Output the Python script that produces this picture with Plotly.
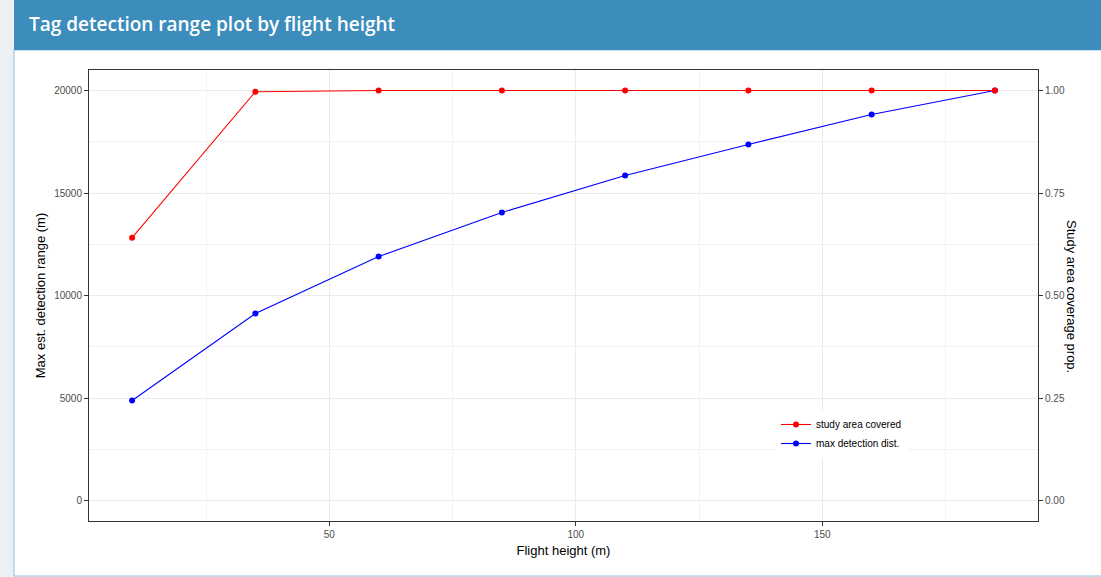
import plotly.graph_objects as go

flight_height = [10, 35, 60, 85, 110, 135, 160, 185]
max_detection_dist = [4880, 9120, 11900, 14050, 15850, 17370, 18830, 20000]
study_area_covered = [0.641, 0.997, 1.0, 1.0, 1.0, 1.0, 1.0, 1.0]

W, H = 1101, 577
L, R, T, B = 89, 1038, 70, 521
pw, ph = R - L, B - T

def px(x):
    return (x - L) / pw

def py(y):
    return (B - y) / ph

fig = go.Figure()
fig.add_trace(go.Scatter(
    x=flight_height, y=study_area_covered, yaxis="y2", mode="lines+markers",
    name="study area covered", line=dict(color="red", width=1.1),
    marker=dict(color="red", size=6)))
fig.add_trace(go.Scatter(
    x=flight_height, y=max_detection_dist, mode="lines+markers",
    name="max detection dist.", line=dict(color="blue", width=1.1),
    marker=dict(color="blue", size=6)))

shapes = [
    dict(type="rect", xref="paper", yref="paper", x0=px(14), x1=px(1102), y0=py(576), y1=py(50),
         fillcolor="white", line=dict(color="#8fbfdc", width=1), layer="below"),
    dict(type="rect", xref="paper", yref="paper", x0=px(14), x1=px(1102), y0=py(50), y1=py(-1),
         fillcolor="#3c8dbc", line=dict(width=0), layer="below"),
]

annotations = [
    dict(text="Tag detection range plot by flight height", xref="paper", yref="paper",
         x=px(27), y=py(24), xanchor="left", yanchor="middle", showarrow=False,
         font=dict(family="Open Sans", size=19, color="white", weight=600)),
    dict(text="Study area coverage prop.", xref="paper", yref="paper",
         x=px(1072), y=py(296), xanchor="center", yanchor="middle", showarrow=False,
         textangle=90, font=dict(family="Liberation Sans", size=13, color="black")),
]

fig.update_layout(
    width=W, height=H,
    margin=dict(l=L, r=W - R, t=T, b=H - B),
    paper_bgcolor="#ecf0f5", plot_bgcolor="white",
    font=dict(family="Liberation Sans"),
    shapes=shapes, annotations=annotations,
    showlegend=True,
    legend=dict(x=px(776), y=py(410), xanchor="left", yanchor="top",
                bgcolor="white", font=dict(size=10, color="black"),
                itemwidth=30, tracegroupgap=4),
    xaxis=dict(range=[1.25, 193.75], tickvals=[50, 100, 150], showgrid=True,
               gridcolor="#ebebeb", gridwidth=1,
               minor=dict(tickvals=[25, 75, 125, 175], showgrid=True, gridcolor="#f2f2f2", gridwidth=1, ticks=""),
               showline=True, linecolor="#333333", linewidth=1, mirror=True,
               ticks="outside", ticklen=4, tickcolor="#333333",
               tickfont=dict(size=10, color="#4d4d4d"), zeroline=False,
               title=dict(text="Flight height (m)", font=dict(size=13, color="black"), standoff=6)),
    yaxis=dict(range=[-1000, 21000], tickvals=[0, 5000, 10000, 15000, 20000],
               ticktext=["0", "5000", "10000", "15000", "20000"], showgrid=True,
               gridcolor="#ebebeb", gridwidth=1,
               minor=dict(tickvals=[2500, 7500, 12500, 17500], showgrid=True, gridcolor="#f2f2f2", gridwidth=1, ticks=""),
               showline=True, linecolor="#333333", linewidth=1, mirror=True,
               ticks="outside", ticklen=4, tickcolor="#333333",
               tickfont=dict(size=10, color="#4d4d4d"), zeroline=False,
               title=dict(text="Max est. detection range (m)", font=dict(size=13, color="black"), standoff=5)),
    yaxis2=dict(range=[-0.05, 1.05], tickvals=[0, 0.25, 0.5, 0.75, 1.0],
                ticktext=["0.00", "0.25", "0.50", "0.75", "1.00"],
                overlaying="y", side="right", showgrid=False, zeroline=False,
                ticks="outside", ticklen=4, tickcolor="#333333",
                tickfont=dict(size=10, color="#4d4d4d")),
)

fig.write_html("out.html", config={"displayModeBar": False},
               post_script="document.body.style.margin='0px';document.body.style.padding='0px';"
                           "document.body.style.background='#ecf0f5';document.body.style.overflow='hidden';")
